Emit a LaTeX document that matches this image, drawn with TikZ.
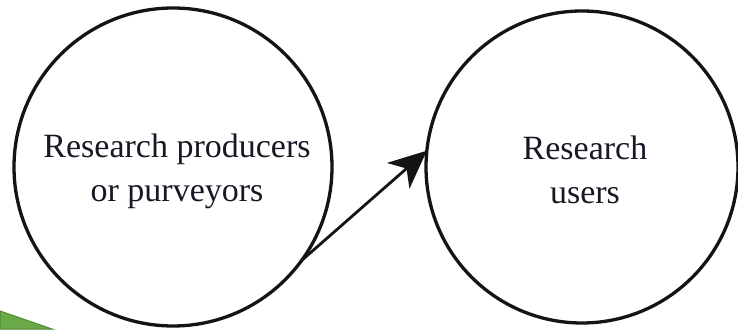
\documentclass[tikz,border=0pt]{standalone}
\usepackage{fontspec}
\setmainfont{Liberation Serif}
\usetikzlibrary{arrows.meta}
\definecolor{txt}{RGB}{24,24,36}
\definecolor{grn}{RGB}{106,170,70}
\definecolor{grnd}{RGB}{78,138,50}
\tikzset{
  bubble/.style={circle, draw=black!92, line width=3.3pt, fill=none, inner sep=0pt, outer sep=0pt},
  lbl/.style={align=center, text=txt, font=\fontsize{34}{44}\selectfont, inner sep=0pt},
  flow/.style={draw=black!92, line width=2.8pt, -{Stealth[length=38pt,width=34pt,inset=11pt]}}
}
\begin{document}
\begin{tikzpicture}[x=1pt,y=1pt]
\useasboundingbox (0,0) rectangle (738,329);
\fill[white] (0,0) rectangle (738,329);
\fill[grn, draw=grnd, line width=1pt] (0,0) -- (0,18) -- (52,0) -- cycle;
\node[bubble, minimum size=318pt] (left) at (173,162) {};
\node[bubble, minimum size=312pt] (right) at (582,162) {};
\node[lbl] (prod) at (177,158) {Research producers\\or purveyors};
\node[lbl] (user) at (585,159) {Research\\users};
\draw[flow] (left.-36.4) -- (right.174.9);
\end{tikzpicture}
\end{document}
